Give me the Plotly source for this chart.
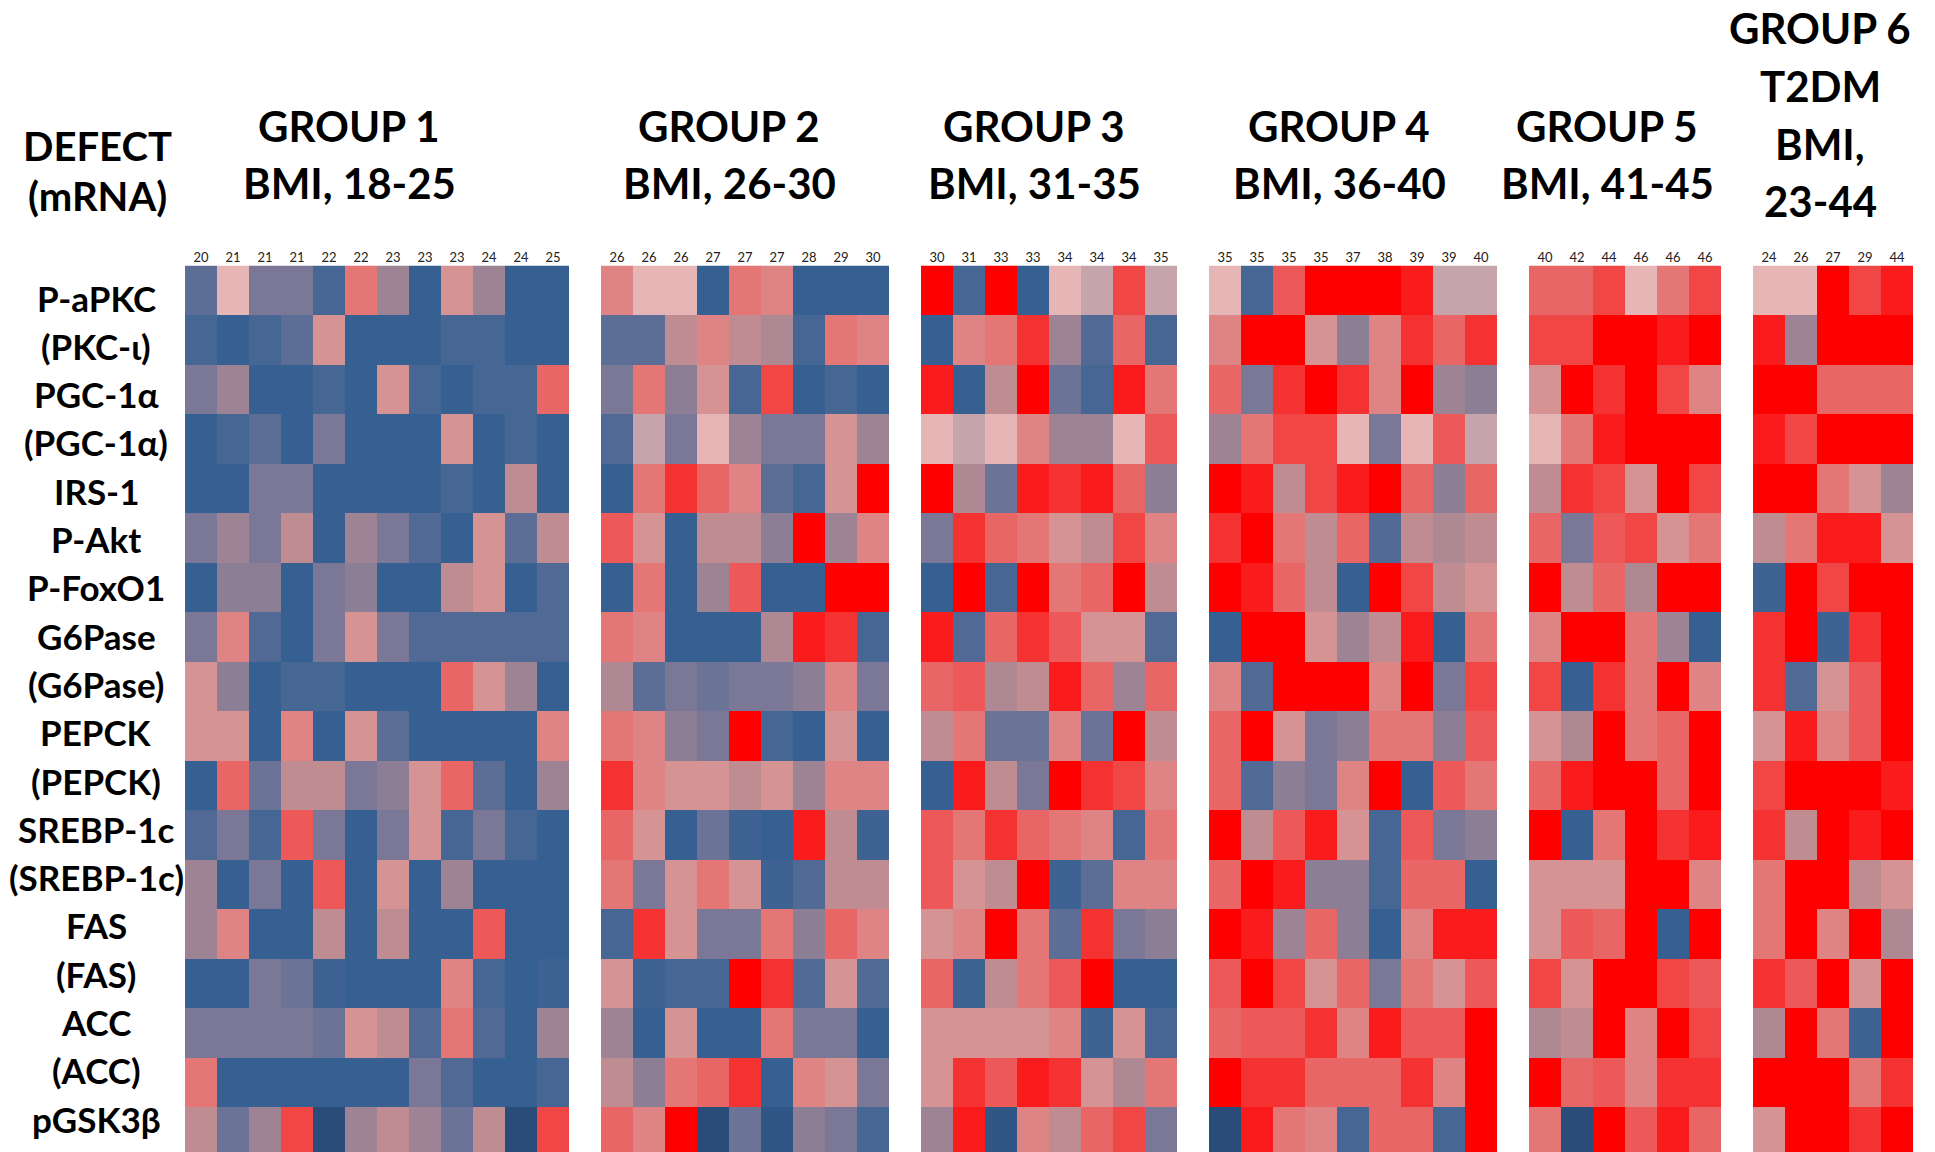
import plotly.graph_objects as go

# ---------------- data ----------------
ROWS = ["P-aPKC", "(PKC-ι)", "PGC-1α", "(PGC-1α)", "IRS-1", "P-Akt", "P-FoxO1",
        "G6Pase", "(G6Pase)", "PEPCK", "(PEPCK)", "SREBP-1c", "(SREBP-1c)",
        "FAS", "(FAS)", "ACC", "(ACC)", "pGSK3β"]

BMI_G1 = [20, 21, 21, 21, 22, 22, 23, 23, 23, 24, 24, 25]
BMI_G2 = [26, 26, 26, 27, 27, 27, 28, 29, 30]
BMI_G3 = [30, 31, 33, 33, 34, 34, 34, 35]
BMI_G4 = [35, 35, 35, 35, 37, 38, 39, 39, 40]
BMI_G5 = [40, 42, 44, 46, 46, 46]
BMI_G6 = [24, 26, 27, 29, 44]

# expression score (blue = low, red = high)
G1 = [
    [-3, 0.5, -2, -2, -4, 2, -1, -5, 1, -1, -5, -5],
    [-4, -5, -4, -3, 1, -5, -5, -5, -4, -4, -5, -5],
    [-2, -1, -5, -5, -4, -5, 1, -4, -5, -4, -4, 2.5],
    [-5, -4, -3, -5, -2, -5, -5, -5, 1, -5, -4, -5],
    [-5, -5, -2, -2, -5, -5, -5, -5, -4, -5, 0, -5],
    [-2, -1, -2, 0, -5, -1, -2, -3.5, -5, 1, -3, 0],
    [-5, -1.5, -1.5, -5, -2, -1.5, -5, -5, 0, 1, -5, -3.5],
    [-2, 1.5, -3.5, -5, -2, 1, -2, -3.5, -3.5, -3.5, -3.5, -3.5],
    [1, -1.5, -5, -4, -4, -5, -5, -5, 2.5, 1, -1, -5],
    [1, 1, -5, 1.5, -5, 1, -3, -5, -5, -5, -5, 1.5],
    [-5, 2.5, -2.5, 0, 0, -2, -1.5, 1, 2.5, -3, -5, -1],
    [-3.5, -2, -4, 3, -2, -5, -2, 1, -4, -2, -4, -5],
    [-1, -5, -2, -5, 3, -5, 1, -5, -1, -5, -5, -5],
    [-1, 1.5, -5, -5, 0, -5, 0, -5, -5, 3, -5, -5],
    [-5, -5, -2, -2.5, -4.5, -5, -5, -5, 1.5, -4, -5, -4.5],
    [-2, -2, -2, -2, -2.5, 1, 0, -3.5, 2, -3.5, -5, -1],
    [2, -5, -5, -5, -5, -5, -5, -2, -3.5, -5, -5, -4],
    [0, -2.5, -1, 3.5, -6, -1, 0, -1, -2.5, 0, -6, 3.5],
]
G2 = [
    [1.5, 0.5, 0.5, -5, 2, 1.5, -5, -5, -5],
    [-3, -3, 0, 1.5, 0, -0.5, -4, 2, 1.5],
    [-2, 2, -1.5, 1, -4, 3.5, -5, -4, -5],
    [-3.5, 0.25, -2, 0.5, -1, -2, -2, 1, -1],
    [-5, 2, 4, 2.5, 1.5, -3, -4, 1, 5],
    [3, 1, -5, 0, 0, -1.5, 5, -1, 1.5],
    [-5, 2, -5, -1, 3, -5, -5, 5, 5],
    [2, 1.5, -5, -5, -5, -0.5, 4.5, 4, -4],
    [-0.5, -3, -2, -2.5, -2, -2, -1.5, 1.5, -2],
    [2, 1.5, -1.5, -2, 5, -4, -5, 1, -5],
    [4, 1.5, 1, 1, 0, 1, -1, 1.5, 1.5],
    [2.5, 1, -5, -2.5, -4.5, -5, 4.5, 0, -4.5],
    [2, -2, 1, 2, 1, -4.5, -3.5, 0, 0],
    [-4, 4, 1, -2, -2, 2, -1.5, 2.5, 1.5],
    [1, -4.5, -4, -4, 5, 4, -3.5, 1, -3.5],
    [-1, -5, 1, -5, -5, 2, -2, -2, -5],
    [0, -1.5, 2, 2.5, 4, -5, 1.5, 1, -2],
    [2.5, 1.5, 5, -6, -2.5, -5.5, -1.5, -2, -4],
]
G3 = [
    [5, -4, 5, -5, 0.5, 0.25, 3.5, 0.25],
    [-5, 1.5, 2, 4, -1, -3.5, 2.5, -4],
    [4.5, -5, 0, 5, -2.5, -4, 4.5, 2],
    [0.5, 0.25, 0.5, 1.5, -1, -1, 0.5, 3],
    [5, -0.5, -2.5, 4.5, 4, 4.5, 2.5, -1.5],
    [-2, 4, 2.5, 2, 1, 0, 3.5, 1.5],
    [-5, 5, -4, 5, 2, 2.5, 5, 0],
    [4.5, -3.5, 2.5, 4, 3, 1, 1, -3.5],
    [2.5, 3, -0.5, 0, 4.5, 2.5, -1, 2.5],
    [0, 2, -2.5, -2.5, 1.5, -2.5, 5, 0],
    [-5, 4.5, 0, -2, 5, 4, 3.5, 1.5],
    [3, 2, 4, 2.5, 2, 1.5, -4, 2],
    [3, 1, 0, 5, -4.5, -3, 1.5, 1.5],
    [1, 1.5, 5, 2, -3, 4, -2, -1.5],
    [2.5, -4.5, 0, 2, 3, 5, -5, -5],
    [1, 1, 1, 1, 1.5, -4.5, 1, -4],
    [1, 4, 3, 4.5, 4, 1, -0.5, 2],
    [-1, 4.5, -5.5, 1.5, 0, 2.5, 3.5, -2],
]
G4 = [
    [0.5, -4, 3, 5, 5, 5, 4.5, 0.25, 0.25],
    [1.5, 5, 5, 1, -1.5, 1.5, 4, 2.5, 4],
    [2.5, -2, 4, 5, 4, 1.5, 5, -1, -1.5],
    [-1, 2, 3.5, 3.5, 0.5, -2, 0.5, 3, 0.25],
    [5, 4.5, 0, 3.5, 4.5, 5, 2.5, -1.5, 2.5],
    [4, 5, 2, 0, 2.5, -3.5, 0, -0.5, 0],
    [5, 4.5, 2.5, 0, -5, 5, 3.5, 0, 1],
    [-5, 5, 5, 1, -1, 0, 4.5, -5, 2],
    [1.5, -3.5, 5, 5, 5, 1.5, 5, -2, 3.5],
    [2.5, 5, 1, -2, -1.5, 2, 2, -1.5, 3],
    [2.5, -3.5, -1.5, -2, 1.5, 5, -5, 3, 2],
    [5, 0, 3, 4.5, 1, -4, 3, -2, -1.5],
    [2.5, 5, 4.5, -1.5, -1.5, -4, 2.5, 2.5, -5],
    [5, 4.5, -1, 2.5, -1.5, -5, 1.5, 4.5, 4.5],
    [3, 5, 3.5, 1, 2.5, -2, 2, 1, 3],
    [2.5, 3, 3, 4, 1.5, 4.5, 3, 3, 5],
    [5, 4, 4, 2.5, 2.5, 2.5, 4, 1.5, 5],
    [-6, 4.5, 2, 1.5, -4, 2.5, 2.5, -4, 5],
]
G5 = [
    [2.5, 2.5, 3.5, 0.5, 2, 3.5],
    [3.5, 3.5, 5, 5, 4.5, 5],
    [1, 5, 4, 5, 3.5, 1.5],
    [0.5, 2, 4.5, 5, 5, 5],
    [0, 4, 3.5, 1, 5, 3.5],
    [2.5, -2, 3, 3.5, 1, 2],
    [5, 0, 2.5, -0.5, 5, 5],
    [1.5, 5, 5, 2, -1, -5],
    [3.5, -5, 4, 2, 5, 1.5],
    [1, -0.5, 5, 2, 2.5, 5],
    [2.5, 4.5, 5, 5, 2.5, 5],
    [5, -5, 2, 5, 4, 4.5],
    [1, 1, 1, 5, 5, 1.5],
    [1, 3, 2.5, 5, -5, 5],
    [3.5, 1, 5, 5, 3.5, 3],
    [-0.5, 0, 5, 1.5, 5, 3.5],
    [5, 2.5, 3, 1.5, 4, 4],
    [2, -6, 5, 3, 4.5, 2.5],
]
G6 = [
    [0.5, 0.5, 5, 3.5, 4.5],
    [4.5, -1, 5, 5, 5],
    [5, 5, 2.5, 2.5, 2.5],
    [4.5, 3.5, 5, 5, 5],
    [5, 5, 2, 1, -1],
    [0, 2, 4.5, 4.5, 1],
    [-4.5, 5, 3.5, 5, 5],
    [4, 5, -4.5, 4, 5],
    [4, -3.5, 1, 3, 5],
    [1, 4.5, 1.5, 3, 5],
    [3.5, 5, 5, 5, 4.5],
    [4, 0, 5, 4.5, 5],
    [2, 5, 5, 0, 1],
    [2, 5, 1.5, 5, -0.5],
    [4, 3, 5, 1, 5],
    [-0.5, 5, 2, -4.5, 5],
    [5, 5, 5, 2, 4],
    [1, 5, 5, 4, 5],
]

GROUP_TITLES = [
    ["GROUP 1", "BMI, 18-25"],
    ["GROUP 2", "BMI, 26-30"],
    ["GROUP 3", "BMI, 31-35"],
    ["GROUP 4", "BMI, 36-40"],
    ["GROUP 5", "BMI, 41-45"],
    ["GROUP 6", "T2DM", "BMI,", "23-44"],
]

# ---------------- styling ----------------
W, H = 1935, 1152
FONT = "Lato"
ZMIN, ZMAX = -6, 5
STOPS = [
    (-6, "rgb(42,76,120)"), (-5, "rgb(54,96,146)"), (-4, "rgb(70,102,148)"),
    (-3, "rgb(92,110,150)"), (-2, "rgb(122,120,150)"), (-1, "rgb(157,131,148)"),
    (0, "rgb(190,140,145)"), (0.25, "rgb(198,164,172)"), (0.5, "rgb(230,182,182)"),
    (1, "rgb(214,147,147)"), (1.5, "rgb(223,132,132)"), (2, "rgb(228,118,118)"),
    (2.5, "rgb(233,102,102)"), (3, "rgb(237,88,88)"), (3.5, "rgb(241,70,70)"),
    (4, "rgb(245,50,50)"), (4.5, "rgb(250,28,28)"), (5, "rgb(255,0,0)"),
]
COLORSCALE = [[(z - ZMIN) / (ZMAX - ZMIN), c] for z, c in STOPS]

GROUP_X = [(185, 569), (601, 889), (921, 1177), (1209, 1497), (1529, 1721), (1753, 1913)]
TOP_PX = 265.5
ROW_PX = 49.5

groups = [(G1, BMI_G1), (G2, BMI_G2), (G3, BMI_G3), (G4, BMI_G4), (G5, BMI_G5), (G6, BMI_G6)]

fig = go.Figure()
layout = dict(
    width=W, height=H, margin=dict(l=0, r=0, t=0, b=0),
    paper_bgcolor="white", plot_bgcolor="white", showlegend=False,
)
y_dom_top = (H - TOP_PX) / H
n_vis = (H - TOP_PX) / ROW_PX
layout["yaxis"] = dict(domain=[0, y_dom_top], range=[-0.5 + n_vis, -0.5],
                       showticklabels=False, showgrid=False, zeroline=False,
                       ticks="", anchor="x")

for gi, (vals, bmi) in enumerate(groups):
    ax = "" if gi == 0 else str(gi + 1)
    fig.add_trace(go.Heatmap(
        z=vals, x=list(range(len(bmi))), y=list(range(len(ROWS))),
        colorscale=COLORSCALE, zmin=ZMIN, zmax=ZMAX, showscale=False,
        xaxis="x" + ax, yaxis="y", hoverinfo="skip",
    ))
    x0, x1 = GROUP_X[gi]
    layout["xaxis" + ax] = dict(
        domain=[x0 / W, x1 / W], range=[-0.5, len(bmi) - 0.5],
        side="top", anchor="y", tickmode="array",
        tickvals=list(range(len(bmi))), ticktext=[str(b) for b in bmi],
        tickfont=dict(family=FONT, size=13, color="#222"),
        ticks="", showgrid=False, zeroline=False, showline=False,
    )

fig.update_layout(**layout)

annotations = []
def add_text(txt, xpx, ypx, size, bold=True):
    annotations.append(dict(
        text=f"<b>{txt}</b>" if bold else txt, xref="paper", yref="paper",
        x=xpx / W, y=1 - ypx / H, xanchor="center", yanchor="middle",
        showarrow=False, font=dict(family=FONT, size=size, color="black"),
    ))

add_text("DEFECT", 97, 146, 40)
add_text("(mRNA)", 97, 196, 40)

title_x = [349, 729, 1034, 1339, 1607, 1820]
for gi, lines in enumerate(GROUP_TITLES):
    if len(lines) == 2:
        add_text(lines[0], title_x[gi], 126, 42)
        add_text(lines[1], title_x[gi], 183, 42)
    else:
        for li, ln in enumerate(lines):
            add_text(ln, title_x[gi], [28, 86, 144, 201][li], 42)

for i, r in enumerate(ROWS):
    add_text(r, 96, 297.5 + i * 48.3, 35)

fig.update_layout(annotations=annotations)

fig.write_html("out.html", config={"displayModeBar": False},
               post_script="document.body.style.margin='0';document.body.style.overflow='hidden';")
